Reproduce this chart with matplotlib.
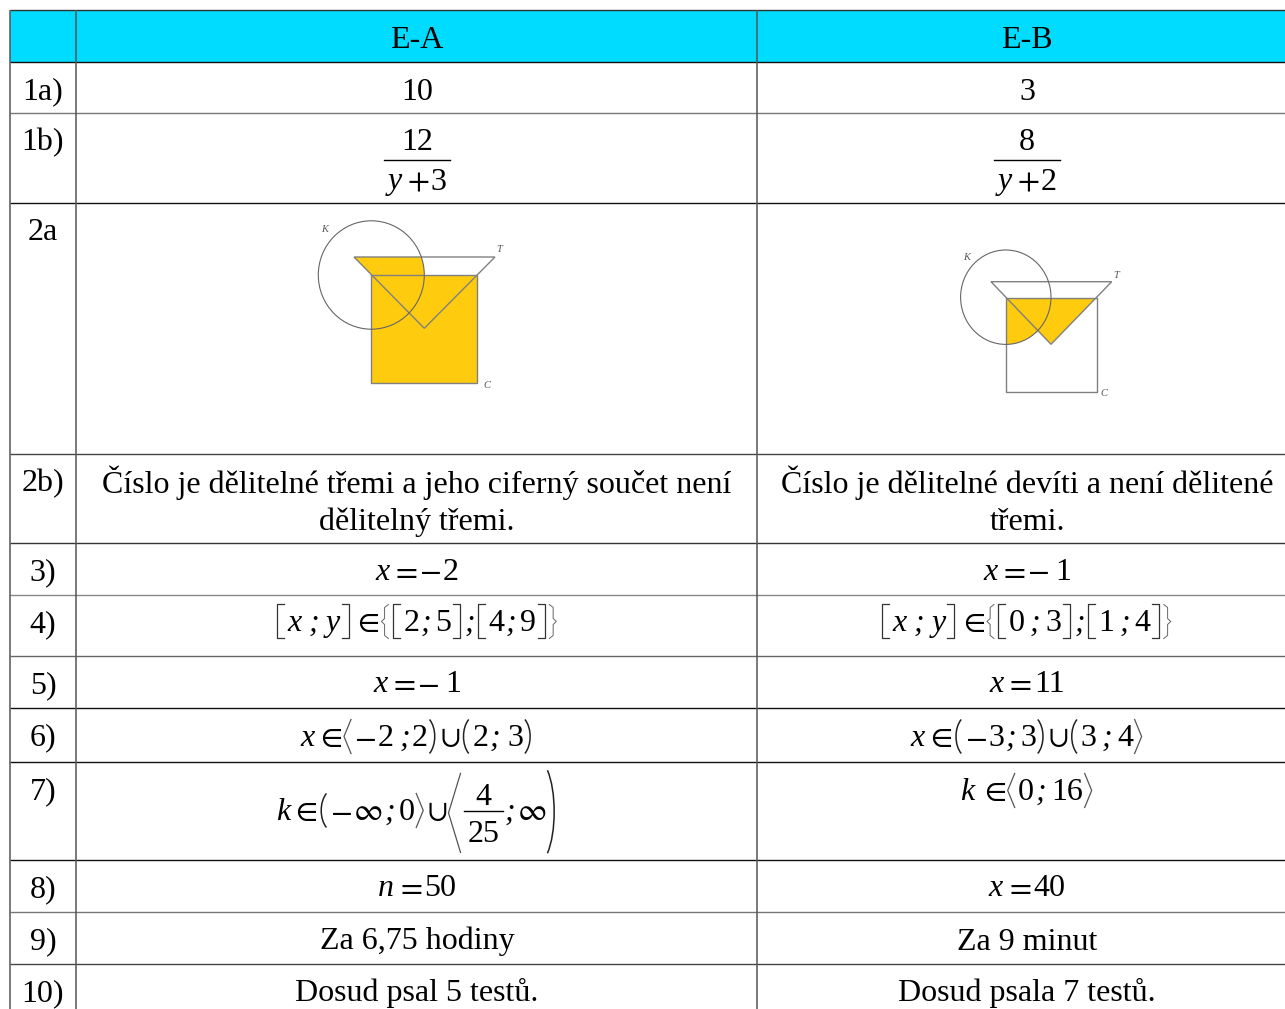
import numpy as np
import matplotlib
matplotlib.use("Agg")
import matplotlib.pyplot as plt
from matplotlib.patches import Rectangle, Polygon, Ellipse, PathPatch
from matplotlib.path import Path

plt.rcParams["font.family"] = ["Liberation Serif", "DejaVu Serif"]
plt.rcParams["mathtext.fontset"] = "stix"

# ---- table content ----
HEADERS = ["E-A", "E-B"]
ROW_LABELS = ["1a)", "1b)", "2a", "2b)", "3)", "4)", "5)", "6)", "7)", "8)", "9)", "10)"]
ROW_LINES = [10, 62, 113, 203, 454, 543, 595, 656, 708, 762, 860, 912, 964, 1016]
ROW_COLORS = ["#333333", "#111111", "#777777", "#111111", "#444444", "#333333", "#888888",
              "#666666", "#111111", "#111111", "#111111", "#777777", "#444444", "#444444"]
COL_LINES = [10, 76, 757, 1296]

TEXT_2B_A = ["Číslo je dělitelné třemi a jeho ciferný součet není", "dělitelný třemi."]
TEXT_2B_B = ["Číslo je dělitelné devíti a není dělitené", "třemi."]
TEXT_1A = ["10", "3"]
TEXT_9 = ["Za 6,75 hodiny", "Za 9 minut"]
TEXT_10 = ["Dosud psal 5 testů.", "Dosud psala 7 testů."]
FRAC_1B = [("12", "y", "3"), ("8", "y", "2")]

# formulas: i = italic, r = roman, m = math glyph, s = spacing, brackets drawn by hand
F3_A = [("i", "x"), ("m", "="), ("m", "-"), ("r", "2")]
F3_B = [("i", "x"), ("m", "="), ("m", "-"), ("s", 3), ("r", "1")]
F4_A = [("[", 0), ("i", "x"), ("s", 4), ("i", ";"), ("s", 4), ("i", "y"), ("]", 0), ("m", "\\in"), ("{", 0), ("[", 0),
        ("r", "2"), ("i", ";"), ("s", 1), ("r", "5"), ("]", 0), ("i", ";"), ("[", 0), ("r", "4"),
        ("i", ";"), ("s", 1), ("r", "9"), ("]", 0), ("}", 0)]
F4_B = [("[", 0), ("i", "x"), ("s", 4), ("i", ";"), ("s", 4), ("i", "y"), ("]", 0), ("m", "\\in"), ("{", 0), ("[", 0),
        ("r", "0"), ("s", 2), ("i", ";"), ("s", 2), ("r", "3"), ("]", 0), ("i", ";"), ("[", 0), ("r", "1"), ("s", 2),
        ("i", ";"), ("s", 2), ("r", "4"), ("]", 0), ("}", 0)]
F5_A = [("i", "x"), ("m", "="), ("m", "-"), ("s", 3), ("r", "1")]
F5_B = [("i", "x"), ("m", "="), ("r", "11")]
F6_A = [("i", "x"), ("m", "\\in"), ("<", 0), ("m", "-"), ("r", "2"), ("s", 3), ("i", ";"), ("r", "2"), (")", 0),
        ("m", "\\cup"), ("(", 0), ("r", "2"), ("i", ";"), ("s", 4), ("r", "3"), (")", 0)]
F6_B = [("i", "x"), ("m", "\\in"), ("(", 0), ("m", "-"), ("r", "3"), ("i", ";"), ("s", 1), ("r", "3"), (")", 0),
        ("m", "\\cup"), ("(", 0), ("r", "3"), ("s", 2), ("i", ";"), ("s", 2), ("r", "4"), (">", 0)]
F7_A = [("i", "k"), ("m", "\\in"), ("(", 0), ("m", "-"), ("m", "\\infty"), ("i", ";"), ("s", 1),
        ("r", "0"), (">", 0), ("m", "\\cup"), ("<<", 0), ("frac", ("4", "25")), ("i", ";"), ("m", "\\infty"), ("))", 0)]
F7_B = [("i", "k"), ("s", 2), ("m", "\\in"), ("<", 0), ("r", "0"), ("i", ";"), ("s", 2), ("r", "16"), (">", 0)]
F8_A = [("i", "n"), ("m", "="), ("r", "50")]
F8_B = [("i", "x"), ("m", "="), ("r", "40")]

# ---- the two small drawings (in pixels) ----
A_CIRCLE = (371.3, 275.0, 106, 108.4)
A_TRI = [(354, 257), (495, 257), (424.3, 328.3)]
A_SQ = (371, 275, 106.3, 107.7)
A_LABELS = [(325, 229, "K"), (499, 250, "T"), (487, 385, "C")]
B_CIRCLE = (1005.8, 297.2, 90.4, 94.4)
B_TRI = [(991, 281.7), (1111.7, 281.7), (1051, 344.3)]
B_SQ = (1006, 297.7, 90.7, 94.6)
B_LABELS = [(967, 257, "K"), (1116, 276, "T"), (1104, 394, "C")]

FS = 23
GAP = 1.5
CYAN = "#00DCFF"
YELLOW = "#FFCB0E"
GREY = "#808080"

fig = plt.figure(figsize=(12.85, 10.09), dpi=100)
ax = fig.add_axes([0, 0, 1, 1])
ax.set_xlim(0, 1285)
ax.set_ylim(1009, 0)
ax.axis("off")


def cx(col):
    return (COL_LINES[col + 1] + COL_LINES[col + 2]) / 2 + 0.5


def baseline(row):
    return ROW_LINES[row + 1] + 37.4


def put(x, y, s, style="normal", size=FS, ha="center"):
    return ax.text(x, y, s, fontsize=size, style=style, ha=ha, va="baseline", color="black")


def bracket(kind, x, y, h):
    """crochets dessines a la main : x = bord gauche, y = baseline, h = hauteur"""
    top, bot = y - h * 0.78, y + h * 0.22
    mid = (top + bot) / 2
    w = bracket_w(kind) - 2
    if kind in ("[", "]"):
        xs = [x + w, x + 1, x + 1, x + w] if kind == "[" else [x, x + w - 1, x + w - 1, x]
        ax.plot(xs, [top, top, bot, bot], color="#333333", lw=0.9)
    elif kind in ("<", ">", "<<"):
        xs = [x + w, x, x + w] if kind[0] == "<" else [x, x + w, x]
        ax.plot(xs, [top, mid, bot], color="#555555", lw=0.9)
    elif kind in ("(", ")", "))"):
        x0, x1 = (x + w, x) if kind == "(" else (x, x + w)
        verts = [(x0, top), (x1, mid - h * 0.25), (x1, mid + h * 0.25), (x0, bot)]
        ax.add_patch(PathPatch(Path(verts, [Path.MOVETO, Path.CURVE4, Path.CURVE4, Path.CURVE4]),
                               fill=False, ec="#222222", lw=1.1))
    elif kind in ("{", "}"):
        a, b = (x + w, x + w * 0.45) if kind == "{" else (x, x + w * 0.55)
        tip = x if kind == "{" else x + w
        verts = [(a, top), (b, top + 3), (b, mid - 3), (tip, mid), (b, mid + 3), (b, bot - 3), (a, bot)]
        ax.plot([v[0] for v in verts], [v[1] for v in verts], color="#666666", lw=0.7)


def bracket_w(kind):
    return {"[": 10, "]": 10, "{": 9, "}": 9, "<": 9, ">": 9, "(": 9, ")": 9, "<<": 14, "))": 11}[kind]


def text_w(s, style="normal"):
    t = put(0, 0, s, style)
    w = t.get_window_extent(fig.canvas.get_renderer()).width
    t.remove()
    return w


def token_w(tok):
    k, v = tok
    if k == "s":
        return v
    if k == "r":
        return text_w(v)
    if k == "i":
        return text_w(v, "italic")
    if k == "m":
        return text_w(f"${v}$")
    if k == "frac":
        return max(text_w(v[0]), text_w(v[1])) + 7
    return bracket_w(k)


def formula(tokens, x_center, y):
    x = x_center - (sum(token_w(t) + GAP for t in tokens) - GAP) / 2
    for tok in tokens:
        k, v = tok
        w = token_w(tok)
        if k == "r":
            put(x, y, v, ha="left")
        elif k == "i":
            put(x, y, v, "italic", ha="left")
        elif k == "m":
            put(x, y, f"${v}$", ha="left")
        elif k == "frac":
            put(x + w / 2, y - 15, v[0])
            put(x + w / 2, y + 22, v[1])
            ax.plot([x, x + w], [y - 9, y - 9], color="black", lw=1)
        elif k == "<<":
            bracket(k, x, y + 15, 79)
        elif k == "))":
            bracket(k, x, y + 15, 83)
        elif k != "s":
            bracket(k, x, y, 34)
        x += w + GAP


def frac_1b(col, num, var, add):
    c = cx(col)
    put(c, 149.5, num)
    ax.plot([c - 33, c + 33], [159.5, 159.5], color="black", lw=1)
    formula([("i", var), ("s", 2), ("m", "+"), ("r", add)], c, 189.5)


def drawing(circle, tri, sq, labels, kind):
    x, y, w, h = sq
    rect_fill = Rectangle((x, y), w, h, fc=YELLOW, ec="none", zorder=2)
    tri_fill = Polygon(tri, closed=True, fc=YELLOW, ec="none", zorder=2)
    ax.add_patch(rect_fill)
    ax.add_patch(tri_fill)
    clip_c = Ellipse(circle[:2], circle[2], circle[3], transform=ax.transData)
    clip_s = Rectangle((x, y), w, h, transform=ax.transData)
    if kind == "A":
        tri_fill.set_clip_path(clip_c)       # carre plein + triangle dans le cercle
    else:
        rect_fill.set_clip_path(clip_c)      # carre dans (triangle ou cercle)
        tri_fill.set_clip_path(clip_s)
    ax.add_patch(Rectangle((x, y), w, h, fill=False, ec=GREY, lw=1.0, zorder=3))
    ax.add_patch(Polygon(tri, closed=True, fill=False, ec=GREY, lw=1.0, zorder=3))
    ax.add_patch(Ellipse(circle[:2], circle[2], circle[3], fill=False, ec="#666666", lw=0.8, zorder=3))
    for lx, ly, s in labels:
        ax.text(lx, ly, s, fontsize=7.5, style="italic", color="#555555", ha="center", va="center")


# ---- fond + grille ----
ax.add_patch(Rectangle((COL_LINES[0], ROW_LINES[0]), COL_LINES[-1] - COL_LINES[0], ROW_LINES[1] - ROW_LINES[0],
                       fc=CYAN, ec="none"))
for y, c in zip(ROW_LINES[:-1], ROW_COLORS):
    ax.plot([COL_LINES[0], COL_LINES[-1]], [y - 0.5, y - 0.5], color=c, lw=1.0, solid_capstyle="butt")
for x in COL_LINES[:-1]:
    ax.plot([x, x], [ROW_LINES[0], 1009], color="#555555", lw=1.1, solid_capstyle="butt")

# ---- textes ----
put(cx(0), 48, HEADERS[0])
put(cx(1), 48, HEADERS[1])
for i, lab in enumerate(ROW_LABELS):
    put(43, baseline(i), lab)

put(cx(0), 99.5, TEXT_1A[0])
put(cx(1), 99.5, TEXT_1A[1])
frac_1b(0, *FRAC_1B[0])
frac_1b(1, *FRAC_1B[1])
drawing(A_CIRCLE, A_TRI, A_SQ, A_LABELS, "A")
drawing(B_CIRCLE, B_TRI, B_SQ, B_LABELS, "B")

put(cx(0), 493, TEXT_2B_A[0])
put(cx(0), 530, TEXT_2B_A[1])
put(cx(1), 493, TEXT_2B_B[0])
put(cx(1), 530, TEXT_2B_B[1])

formula(F3_A, cx(0), 579.5)
formula(F3_B, cx(1), 579.5)
formula(F4_A, cx(0), 631)
formula(F4_B, cx(1), 631)
formula(F5_A, cx(0), 692)
formula(F5_B, cx(1), 692)
formula(F6_A, cx(0), 746)
formula(F6_B, cx(1), 746)
formula(F7_A, cx(0), 820)
formula(F7_B, cx(1), 800)
formula(F8_A, cx(0), 896)
formula(F8_B, cx(1), 896)
put(cx(0), 949.5, TEXT_9[0])
put(cx(1), 949.5, TEXT_9[1])
put(cx(0), 1001.5, TEXT_10[0])
put(cx(1), 1001.5, TEXT_10[1])

fig.savefig("out.png", dpi=100, facecolor="white")
